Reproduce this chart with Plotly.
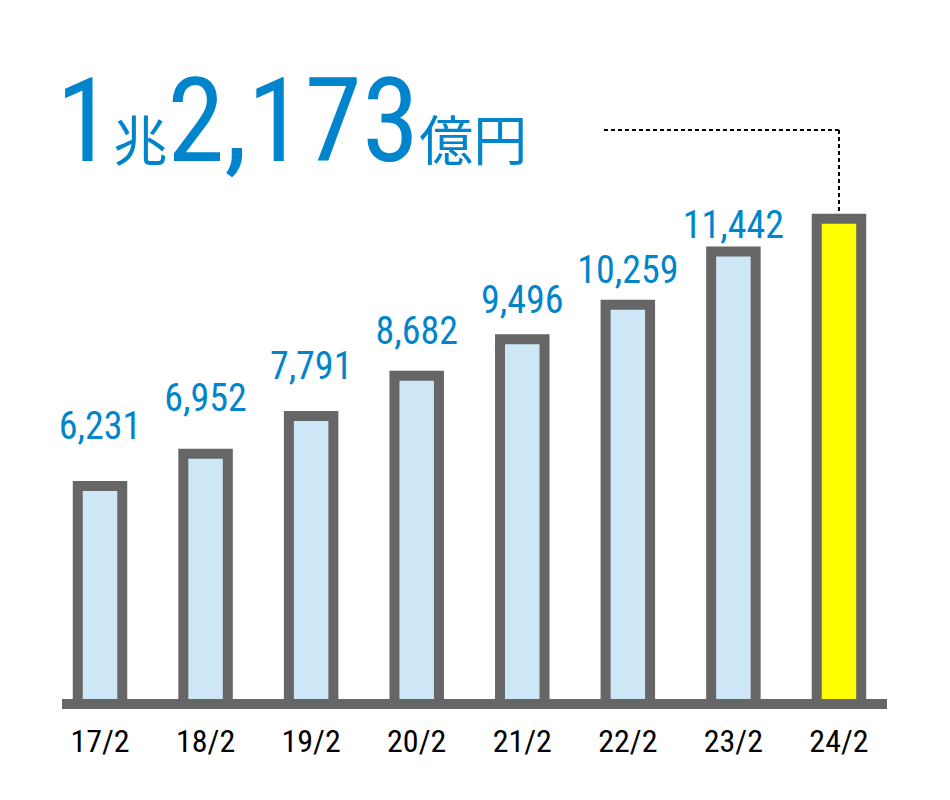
import plotly.graph_objects as go

# ---- data ----
periods = ["17/2", "18/2", "19/2", "20/2", "21/2", "22/2", "23/2", "24/2"]
sales = [6231, 6952, 7791, 8682, 9496, 10259, 11442, 12173]
highlight_period = "24/2"
headline_parts = ["1", "兆", "2,173", "億円"]

# ---- styles ----
BLUE = "#0085cc"
GRAY = "#666666"
LIGHT = "#cde7f6"
YELLOW = "#ffff00"
NUM_FONT = "Roboto Condensed, Roboto"
CJK_FONT = "Noto Sans CJK JP"

bar_colors = [YELLOW if p == highlight_period else LIGHT for p in periods]
labels = ["" if p == highlight_period else f"{v:,}" for p, v in zip(periods, sales)]

fig = go.Figure()
fig.add_trace(go.Bar(
    x=periods, y=sales, width=0.4215,
    marker=dict(color=bar_colors, line=dict(color=GRAY, width=10)),
    cliponaxis=True, hoverinfo="skip", showlegend=False,
))
fig.add_trace(go.Scatter(
    x=periods, y=sales, yaxis="y2", mode="text", text=labels,
    textposition="middle center",
    textfont=dict(family=NUM_FONT, size=38, color=BLUE),
    cliponaxis=False, hoverinfo="skip", showlegend=False,
))

title = (f"{headline_parts[0]}"
         f"<span style=\"font-size:54px;font-family:{CJK_FONT}\">{headline_parts[1]}</span>"
         f"{headline_parts[2]}"
         f"<span style=\"font-size:54px;font-family:{CJK_FONT}\">{headline_parts[3]}</span>")
fig.add_annotation(
    text=title, xref="paper", yref="paper", x=-0.01, y=0.795,
    xanchor="left", yanchor="bottom", showarrow=False,
    font=dict(family=NUM_FONT, size=116, color=BLUE),
)

# dotted leader line from headline to the highlighted bar
last_idx = periods.index(highlight_period)
leader_y = 14144
fig.add_shape(type="line", xref="x", yref="y", x0=4.774, x1=last_idx,
              y0=leader_y, y1=leader_y, layer="below",
              line=dict(color="black", width=2, dash="4px,3px"))
fig.add_shape(type="line", xref="x", yref="y", x0=last_idx, x1=last_idx,
              y0=leader_y, y1=sales[last_idx], layer="below",
              line=dict(color="black", width=2, dash="4px,3px"))

fig.update_layout(
    width=942, height=792,
    margin=dict(l=54, r=63, t=52, b=101),
    paper_bgcolor="white", plot_bgcolor="white",
    xaxis=dict(type="category", range=[-0.36, 7.455],
               showline=True, linecolor=GRAY, linewidth=10,
               showgrid=False, zeroline=False,
               ticks="outside", ticklen=5, tickcolor="rgba(0,0,0,0)",
               tickfont=dict(family=NUM_FONT, size=32, color="black")),
    yaxis=dict(range=[1500, 15700], visible=False, showgrid=False, zeroline=False),
    yaxis2=dict(range=[-756, 15798], overlaying="y", visible=False,
                showgrid=False, zeroline=False),
    bargap=0.5,
)

fig.write_html("out.html")
